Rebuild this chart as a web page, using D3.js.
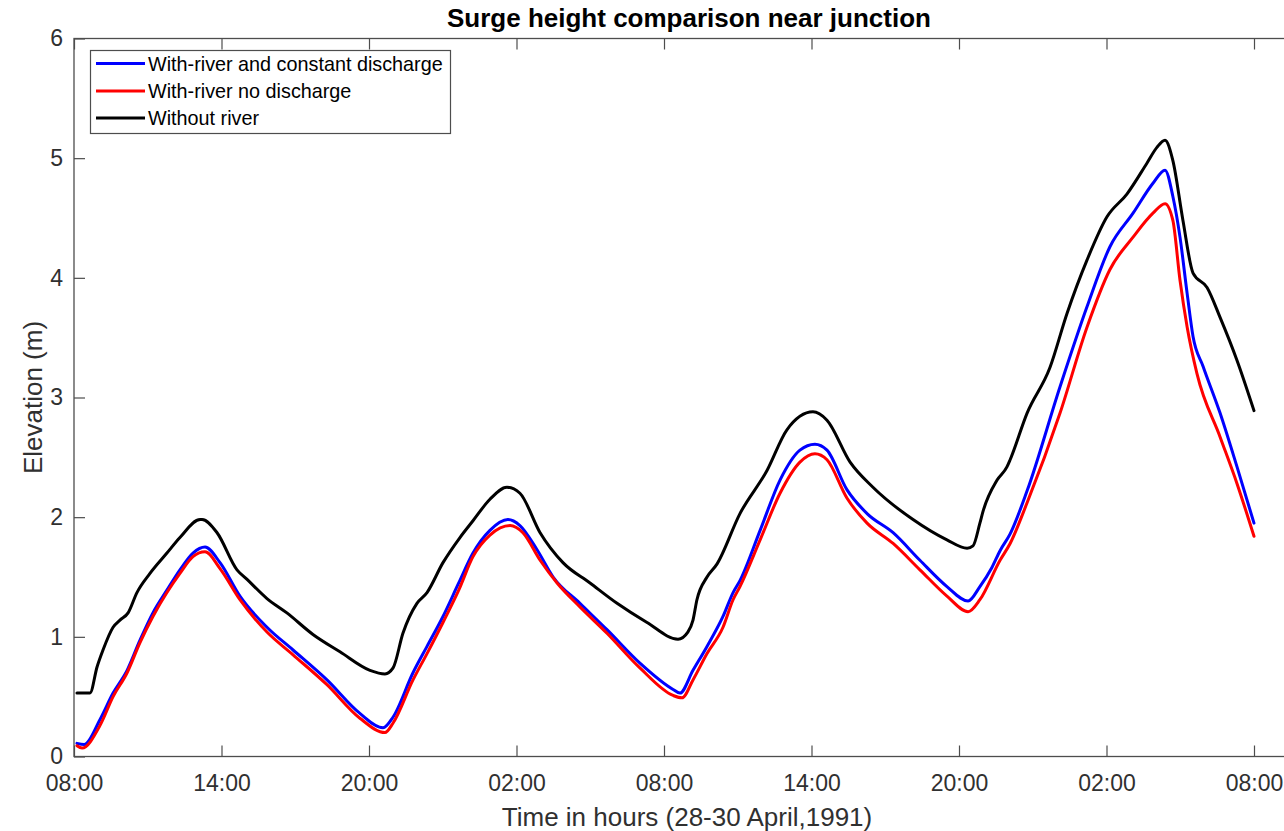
<!DOCTYPE html>
<html>
<head>
<meta charset="utf-8">
<script src="https://cdn.jsdelivr.net/npm/d3@7"></script>
<style>
  html, body { margin: 0; padding: 0; background: #fff; }
  svg { display: block; }
  text { font-family: "Liberation Sans", Arial, Helvetica, sans-serif; }
</style>
</head>
<body>
<svg id="chart" width="1284" height="831"></svg>
<script>
// Time is in hours after 08:00 on 28 April 1991; elevation in metres.
const timeTicks = [0, 6, 12, 18, 24, 30, 36, 42, 48];
const timeTickLabels = ["08:00", "14:00", "20:00", "02:00", "08:00", "14:00", "20:00", "02:00", "08:00"];
const elevationTicks = [0, 1, 2, 3, 4, 5, 6];

const seriesNames = ["With-river and constant discharge", "With-river no discharge", "Without river"];
const seriesColors = ["#0000ff", "#ff0000", "#000000"];

// With-river and constant discharge
const withRiverDischarge = [
  [0.12,0.11],[0.41,0.10],[1.06,0.31],[1.59,0.53],[2.16,0.72],[2.68,0.97],[3.21,1.20],
  [3.78,1.39],[4.31,1.56],[4.84,1.70],[5.33,1.75],[5.94,1.62],[6.75,1.34],[7.85,1.08],
  [8.91,0.89],[10.29,0.64],[11.63,0.36],[12.57,0.24],[12.98,0.33],[13.79,0.70],[14.36,0.92],
  [15.01,1.17],[15.65,1.45],[16.23,1.70],[16.92,1.89],[17.65,1.98],[18.14,1.93],[18.83,1.73],
  [19.49,1.50],[20.58,1.28],[21.68,1.06],[23.02,0.78],[24.37,0.56],[24.65,0.53],[25.18,0.72],
  [25.75,0.92],[26.40,1.17],[26.81,1.37],[27.09,1.47],[27.91,1.89],[28.72,2.31],[29.53,2.56],
  [30.14,2.61],[30.63,2.56],[31.44,2.23],[32.26,2.03],[33.32,1.87],[34.41,1.64],[35.51,1.42],
  [36.37,1.30],[36.85,1.42],[37.34,1.58],[37.67,1.72],[38.08,1.86],[38.77,2.22],[40.11,3.09],
  [41.21,3.76],[42.14,4.26],[43.08,4.54],[43.89,4.79],[44.38,4.90],[44.70,4.68],[44.99,4.34],
  [45.28,3.87],[45.52,3.51],[45.93,3.26],[46.62,2.87],[47.31,2.42],[48.0,1.95]
];

// With-river no discharge
const withRiverNoDischarge = [
  [0.12,0.09],[0.33,0.07],[1.06,0.26],[1.59,0.50],[2.16,0.70],[2.68,0.95],[3.21,1.17],
  [3.78,1.37],[4.31,1.53],[4.84,1.67],[5.33,1.71],[5.94,1.57],[6.75,1.31],[7.85,1.04],
  [8.91,0.85],[10.29,0.60],[11.63,0.32],[12.65,0.20],[12.98,0.28],[13.79,0.64],[14.36,0.86],
  [15.01,1.12],[15.65,1.39],[16.23,1.67],[16.92,1.85],[17.74,1.93],[18.26,1.87],[18.96,1.64],
  [19.65,1.45],[20.58,1.25],[21.68,1.03],[23.02,0.74],[24.37,0.51],[24.73,0.49],[25.18,0.64],
  [25.75,0.86],[26.40,1.08],[26.81,1.31],[27.09,1.42],[27.91,1.81],[28.72,2.20],[29.53,2.46],
  [30.14,2.53],[30.63,2.48],[31.44,2.16],[32.26,1.95],[33.32,1.78],[34.41,1.56],[35.51,1.34],
  [36.37,1.21],[36.85,1.31],[37.67,1.64],[38.08,1.78],[38.77,2.12],[40.11,2.87],[41.21,3.59],
  [42.14,4.07],[43.08,4.34],[43.89,4.54],[44.38,4.62],[44.70,4.48],[44.99,3.98],[45.28,3.59],
  [45.68,3.20],[46.62,2.67],[47.31,2.28],[48.0,1.84]
];

// Without river
const withoutRiver = [
  [0.12,0.53],[0.65,0.53],[0.94,0.75],[1.18,0.89],[1.59,1.08],[1.87,1.14],[2.20,1.20],
  [2.56,1.37],[3.09,1.53],[3.78,1.70],[4.31,1.83],[5.13,1.98],[5.21,1.98],[5.82,1.87],
  [6.63,1.56],[7.04,1.48],[7.85,1.32],[8.66,1.20],[9.72,1.02],[10.82,0.875],[12.04,0.72],
  [12.65,0.69],[12.98,0.74],[13.38,1.03],[13.95,1.28],[14.36,1.37],[15.01,1.62],[15.70,1.83],
  [16.23,1.97],[16.92,2.15],[17.61,2.25],[18.14,2.20],[18.96,1.87],[19.89,1.62],[20.99,1.45],
  [22.09,1.28],[23.31,1.12],[24.57,0.98],[24.97,1.04],[25.18,1.14],[25.34,1.31],[25.75,1.50],
  [26.16,1.61],[27.09,2.03],[28.19,2.39],[29.00,2.73],[30.06,2.88],[30.63,2.81],[31.57,2.46],
  [32.50,2.25],[34.13,1.98],[35.51,1.81],[36.33,1.74],[36.57,1.76],[36.85,1.95],[36.98,2.05],
  [37.55,2.31],[37.95,2.42],[38.08,2.48],[38.77,2.87],[39.70,3.25],[40.39,3.70],[41.21,4.15],
  [42.02,4.51],[42.83,4.70],[43.65,4.96],[44.05,5.09],[44.38,5.15],[44.70,4.98],[45.11,4.48],
  [45.52,4.04],[46.09,3.92],[46.62,3.67],[47.31,3.31],[48.0,2.89]
];

const seriesData = [withRiverDischarge, withRiverNoDischarge, withoutRiver];

const svg = d3.select("#chart");
const plot = { left: 74, top: 38.5, bottom: 756.5, right: 1290 };

const x = d3.scaleLinear().domain([0, 48]).range([plot.left, 1254]);
const y = d3.scaleLinear().domain([0, 6]).range([plot.bottom, plot.top]);

const axisColor = "#4d4d4d";
const textColor = "#303030";
const tickLen = 11;

// Data lines
const line = d3.line()
  .x(d => x(d[0]))
  .y(d => y(d[1]))
  .curve(d3.curveMonotoneX);

svg.append("g")
  .selectAll("path")
  .data(seriesData)
  .join("path")
  .attr("d", line)
  .attr("fill", "none")
  .attr("stroke", (d, i) => seriesColors[i])
  .attr("stroke-width", 3)
  .attr("stroke-linejoin", "round")
  .attr("stroke-linecap", "round");

// Bottom axis (ticks point inward)
const xAxis = d3.axisBottom(x)
  .tickValues(timeTicks)
  .tickFormat((d, i) => timeTickLabels[i])
  .tickSizeInner(-tickLen)
  .tickSizeOuter(0)
  .tickPadding(18);

const gx = svg.append("g")
  .attr("transform", `translate(0,${plot.bottom})`)
  .call(xAxis);
gx.select(".domain").remove();
gx.selectAll(".tick line").attr("stroke", axisColor).attr("stroke-width", 1.2);
gx.selectAll(".tick text")
  .attr("fill", textColor)
  .attr("font-size", 23)
  .attr("font-family", "Liberation Sans, Arial, sans-serif");

// Top ticks mirror the bottom ones
const xAxisTop = d3.axisTop(x)
  .tickValues(timeTicks)
  .tickFormat("")
  .tickSizeInner(-tickLen)
  .tickSizeOuter(0);
const gxt = svg.append("g")
  .attr("transform", `translate(0,${plot.top})`)
  .call(xAxisTop);
gxt.select(".domain").remove();
gxt.selectAll(".tick line").attr("stroke", axisColor).attr("stroke-width", 1.2);

// Left axis
const yAxis = d3.axisLeft(y)
  .tickValues(elevationTicks)
  .tickFormat(d3.format("d"))
  .tickSizeInner(-tickLen)
  .tickSizeOuter(0)
  .tickPadding(11);
const gy = svg.append("g")
  .attr("transform", `translate(${plot.left},0)`)
  .call(yAxis);
gy.select(".domain").remove();
gy.selectAll(".tick line").attr("stroke", axisColor).attr("stroke-width", 1.2);
gy.selectAll(".tick text")
  .attr("fill", textColor)
  .attr("font-size", 23)
  .attr("font-family", "Liberation Sans, Arial, sans-serif");

// Axes box
svg.append("rect")
  .attr("x", plot.left)
  .attr("y", plot.top)
  .attr("width", plot.right - plot.left)
  .attr("height", plot.bottom - plot.top)
  .attr("fill", "none")
  .attr("stroke", axisColor)
  .attr("stroke-width", 1.3);

// Title and axis labels
svg.append("text")
  .attr("x", (plot.left + 1284) / 2 + 10)
  .attr("y", 27)
  .attr("text-anchor", "middle")
  .attr("font-size", 26)
  .attr("font-weight", "bold")
  .attr("fill", "#000")
  .text("Surge height comparison near junction");

svg.append("text")
  .attr("x", 687)
  .attr("y", 826)
  .attr("text-anchor", "middle")
  .attr("font-size", 26)
  .attr("fill", textColor)
  .text("Time in hours (28-30 April,1991)");

svg.append("text")
  .attr("transform", `translate(42,${(plot.top + plot.bottom) / 2}) rotate(-90)`)
  .attr("text-anchor", "middle")
  .attr("font-size", 26)
  .attr("fill", textColor)
  .text("Elevation (m)");

// Legend
const legend = svg.append("g");
legend.append("rect")
  .attr("x", 90.5).attr("y", 50.5)
  .attr("width", 360).attr("height", 83)
  .attr("fill", "#fff")
  .attr("stroke", axisColor)
  .attr("stroke-width", 1.2);

const legendRows = [63.5, 91, 118];
seriesNames.forEach((name, i) => {
  legend.append("line")
    .attr("x1", 96).attr("x2", 145)
    .attr("y1", legendRows[i]).attr("y2", legendRows[i])
    .attr("stroke", seriesColors[i])
    .attr("stroke-width", 3);
  legend.append("text")
    .attr("x", 148)
    .attr("y", legendRows[i] + 7)
    .attr("font-size", 19.8)
    .attr("fill", "#000")
    .text(name);
});
</script>
</body>
</html>
